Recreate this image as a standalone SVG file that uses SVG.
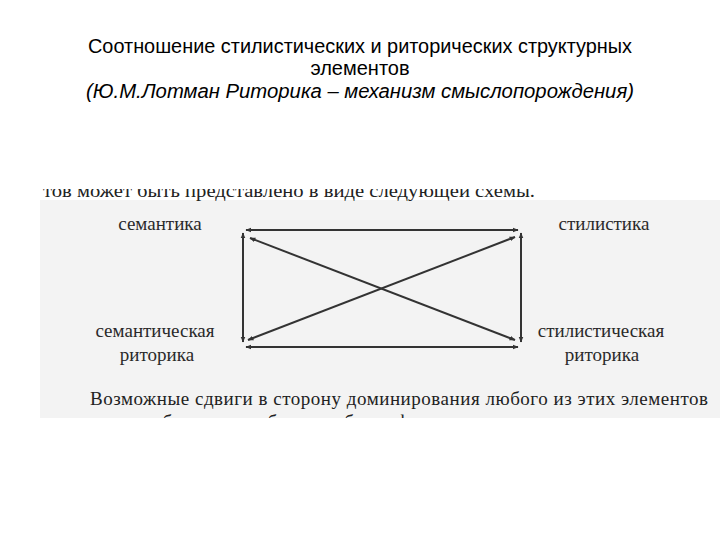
<svg xmlns="http://www.w3.org/2000/svg" width="720" height="540" viewBox="0 0 720 540">
<defs>
<style>
.title{font-family:"Liberation Sans",Arial,sans-serif;font-size:20px;fill:#000;text-anchor:middle}
.lbl{font-family:"Liberation Serif","Times New Roman",serif;font-size:19px;fill:#2a2a2a;text-anchor:middle}
.body{font-family:"Liberation Serif","Times New Roman",serif;font-size:19px;fill:#222}
.ln{stroke:#333;stroke-width:2;fill:none}
</style>
<marker id="ah" viewBox="0 0 10 10" refX="9" refY="5" markerWidth="6" markerHeight="6" orient="auto-start-reverse" markerUnits="userSpaceOnUse">
<path d="M0,1 L10,5 L0,9 Z" fill="#333"/>
</marker>
<clipPath id="scan"><rect x="40" y="189" width="680" height="229"/></clipPath>
</defs>
<rect width="720" height="540" fill="#fff"/>
<g id="title">
<text class="title" x="360" y="53" textLength="544" lengthAdjust="spacingAndGlyphs">Соотношение стилистических и риторических структурных</text>
<text class="title" x="360" y="75">элементов</text>
<text class="title" x="360" y="98" font-style="italic" textLength="548" lengthAdjust="spacingAndGlyphs">(Ю.М.Лотман Риторика – механизм смыслопорождения)</text>
</g>
<g id="scan-page" clip-path="url(#scan)">
<rect x="40" y="200" width="680" height="218" fill="#f3f3f3"/>
<text class="body" x="43" y="197" textLength="492" lengthAdjust="spacingAndGlyphs">тов может быть представлено в виде следующей схемы.</text>
<text class="body" x="90" y="405" textLength="618" lengthAdjust="spacing">Возможные сдвиги в сторону доминирования любого из этих элементов</text>
<text class="body" x="48" y="428" textLength="660" lengthAdjust="spacing">может разнообразные комбинации более фундаментальных историко-семиоти</text>
</g>
<g id="connectors">
<line class="ln" x1="246" y1="230" x2="518" y2="230" marker-start="url(#ah)" marker-end="url(#ah)"/>
<line class="ln" x1="246" y1="347" x2="518" y2="347" marker-start="url(#ah)" marker-end="url(#ah)"/>
<line class="ln" x1="243" y1="233" x2="243" y2="342" marker-start="url(#ah)" marker-end="url(#ah)"/>
<line class="ln" x1="521" y1="233" x2="521" y2="342" marker-start="url(#ah)" marker-end="url(#ah)"/>
<line class="ln" x1="250" y1="238" x2="515" y2="340" marker-start="url(#ah)" marker-end="url(#ah)"/>
<line class="ln" x1="515" y1="237" x2="248" y2="340" marker-start="url(#ah)" marker-end="url(#ah)"/>
</g>
<g id="n-semantika"><text class="lbl" x="160" y="230">семантика</text></g>
<g id="n-stilistika"><text class="lbl" x="604" y="230">стилистика</text></g>
<g id="n-sem-ritorika"><text class="lbl" x="155" y="337">семантическая</text><text class="lbl" x="157" y="361">риторика</text></g>
<g id="n-stil-ritorika"><text class="lbl" x="601" y="337">стилистическая</text><text class="lbl" x="602" y="361">риторика</text></g>
</svg>
